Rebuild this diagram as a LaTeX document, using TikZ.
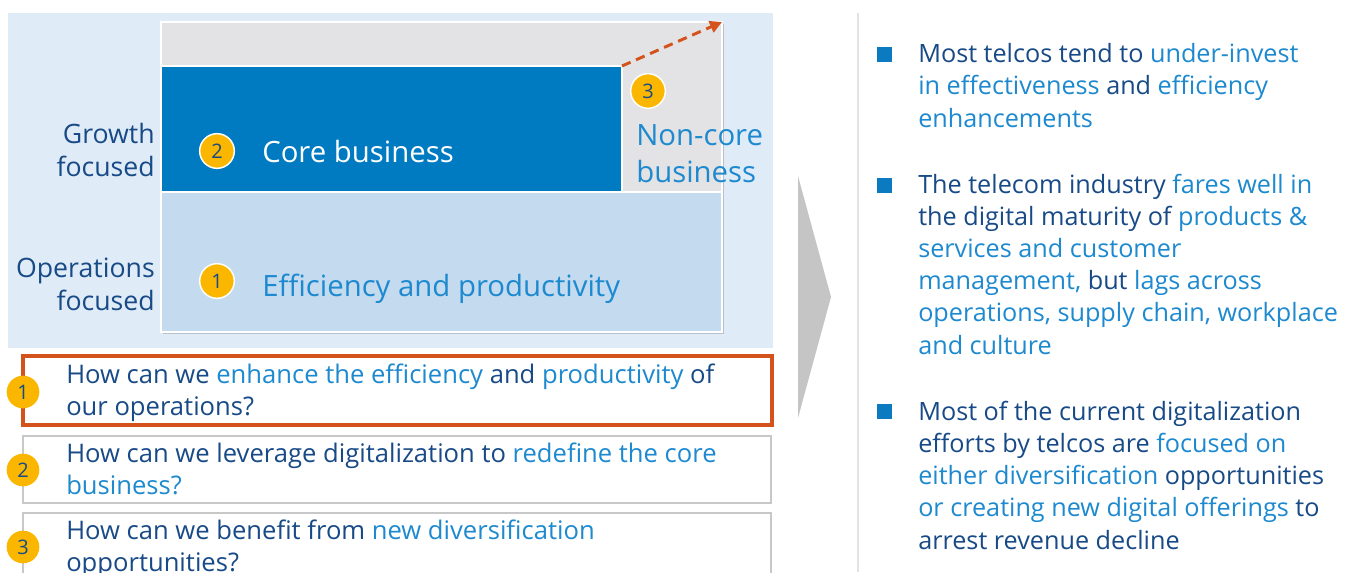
\documentclass[tikz,border=0pt]{standalone}
\usepackage{fontspec}
\setmainfont{Open Sans}
\usetikzlibrary{arrows.meta,fit,shadows}
\definecolor{panelbg}{HTML}{DFEBF7}
\definecolor{greybox}{HTML}{E3E2E4}
\definecolor{coreblue}{HTML}{007BC2}
\definecolor{effblue}{HTML}{C3DAEF}
\definecolor{gold}{HTML}{FBB700}
\definecolor{navy}{HTML}{174A86}
\definecolor{lblue}{HTML}{1D89CF}
\definecolor{accorange}{HTML}{D4531C}
\definecolor{chevgrey}{HTML}{C6C5C6}
\definecolor{sepgrey}{HTML}{E2E2E2}
\definecolor{boxgrey}{HTML}{C8C8C8}
\definecolor{bblue}{HTML}{0B7AC1}
\newcommand{\lb}[1]{\textcolor{lblue}{#1}}
\tikzset{
  box/.style={inner sep=0pt, outer sep=0pt},
  numc/.style={circle, fill=gold, draw=white, line width=1.1pt, minimum size=26pt, inner sep=0pt, text=navy, font=\fontsize{15}{15}\selectfont},
  numq/.style={circle, fill=gold, draw=none, minimum size=24.5pt, inner sep=0pt, text=navy, font=\fontsize{15}{15}\selectfont},
  sidelbl/.style={anchor=base east, align=right, text=navy, inner sep=0pt, font=\fontsize{20}{24.5}\selectfont},
  bigtxt/.style={anchor=base west, align=left, inner sep=0pt, font=\fontsize{22}{27.5}\selectfont},
  qtxt/.style={anchor=base west, align=left, inner sep=0pt, text=navy, font=\fontsize{19.2}{23.3}\selectfont},
  rtxt/.style={anchor=base west, align=left, inner sep=0pt, text=navy, font=\fontsize{18.9}{24.1}\selectfont},
  bsq/.style={box, fill=bblue},
}
\begin{document}
\begin{tikzpicture}[x=0.75pt,y=-0.75pt]
\clip (0,0) rectangle (1357,572);
\fill[white] (0,0) rectangle (1357,572);
% left panel
\node[box, fit={(8,13) (773,348)}, fill=panelbg] (panel) {};
\node[box, fit={(161,22) (722,332)}, fill=greybox, draw=white, line width=1.4pt,
  drop shadow={shadow xshift=1.5pt, shadow yshift=-1.8pt, opacity=0.35, fill=black!55}] (noncore) {};
\node[box, fit={(161,66) (622,192)}, fill=coreblue, draw=white, line width=1pt] (core) {};
\node[box, fit={(161,192) (722,332)}, fill=effblue, draw=white, line width=1.4pt] (eff) {};
% labels (anchored at the baseline of the last line)
\node[sidelbl] (growth) at (155,176) {Growth\\focused};
\node[sidelbl] (ops) at (155,310) {Operations\\focused};
\node[bigtxt, text=white] (coretxt) at (262,162) {Core business};
\node[bigtxt, text=lblue] (noncoretxt) at (636,182) {Non-core\\business};
\node[bigtxt, text=lblue] (efftxt) at (262,296) {Efficiency and productivity};
\node[numc] (n2) at (217,151) {2};
\node[numc] (n3) at (648,91) {3};
\node[numc] (n1) at (217,281) {1};
\draw[accorange, line width=2.2pt, dash pattern=on 7pt off 4.5pt,
  -{Triangle[length=9pt,width=9pt]}] (core.north east) -- (noncore.north east);
% question boxes
\node[box, fit={(23,356) (772,425)}, draw=accorange, line width=2.3pt] (q1) {};
\node[box, fit={(23,436) (771,503)}, draw=boxgrey, line width=1.2pt] (q2) {};
\node[box, fit={(23,513) (771,620)}, draw=boxgrey, line width=1.2pt] (q3) {};
\node[numq] (c1) at (23,392) {1};
\node[numq] (c2) at (23,470) {2};
\node[numq] (c3) at (23,547) {3};
\node[qtxt] (t1) at (66,415) {How can we \lb{enhance the efficiency} and \lb{productivity} of\\our operations?};
\node[qtxt] (t2) at (66,494) {How can we leverage digitalization to \lb{redefine the core}\\\lb{business?}};
\node[qtxt] (t3) at (66,571) {How can we benefit from \lb{new diversification}\\opportunities?};
% chevron and separator
\fill[chevgrey] (798,176) -- (831,297) -- (798,418) -- cycle;
\draw[sepgrey, line width=1.5pt] (858,13) -- (858,572);
% right bullets
\node[bsq, fit={(877,47) (892,62)}] (b1) {};
\node[bsq, fit={(877,178) (892,193)}] (b2) {};
\node[bsq, fit={(877,404) (892,419)}] (b3) {};
\node[rtxt] (r1) at (918,127) {Most telcos tend to \lb{under-invest}\\\lb{in effectiveness} and \lb{efficiency}\\\lb{enhancements}};
\node[rtxt] (r2) at (918,354) {The telecom industry \lb{fares well in}\\the digital maturity of \lb{products \&}\\\lb{services and customer}\\\lb{management,} but \lb{lags across}\\\lb{operations, supply chain, workplace}\\\lb{and culture}};
\node[rtxt] (r3) at (918,549) {Most of the current digitalization\\efforts by telcos are \lb{focused on}\\\lb{either diversification} opportunities\\\lb{or creating new digital offerings} to\\arrest revenue decline};
\end{tikzpicture}
\end{document}
